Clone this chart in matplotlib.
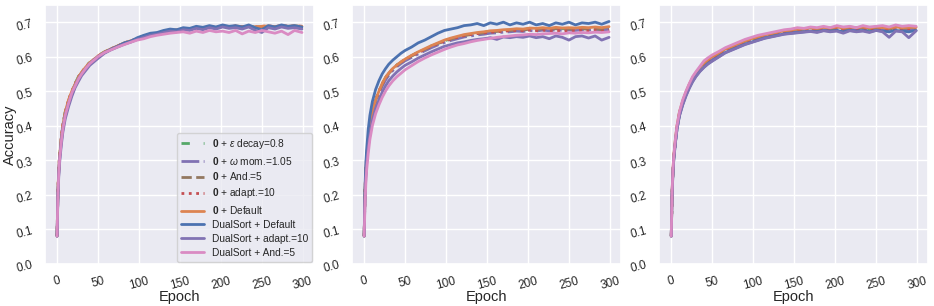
#!/usr/bin/env python3

import matplotlib

matplotlib.use("Agg")

import matplotlib.pyplot as plt
import seaborn as sns

EPOCHS = [0, 1, 2, 3, 5, 7, 10, 14, 18, 22, 26, 30, 35, 40, 45, 50,
          58, 66, 74, 82, 90, 98, 106, 114, 122, 130, 138, 146, 154, 162,
          170, 178, 186, 194, 202, 210, 218, 226, 234, 242, 250, 258, 266,
          274, 282, 290, 299]

LABELS = [
    r"$\mathbf{0}$ + $\varepsilon$ decay=0.8",
    r"$\mathbf{0}$ + $\omega$ mom.=1.05",
    r"$\mathbf{0}$ + And.=5",
    r"$\mathbf{0}$ + adapt.=10",
    r"$\mathbf{0}$ + Default",
    "DualSort + Default",
    "DualSort + adapt.=10",
    "DualSort + And.=5",
]

# ---- panel 1
P1_EPS = [0.08, 0.21, 0.27, 0.31, 0.36, 0.40, 0.44, 0.473, 0.50, 0.522, 0.542, 0.556, 0.571, 0.584, 0.593, 0.603,
          0.614, 0.622, 0.632, 0.639, 0.646, 0.653, 0.660, 0.665, 0.667, 0.673, 0.676, 0.676, 0.681, 0.680, 0.684,
          0.683, 0.686, 0.684, 0.688, 0.686, 0.688, 0.686, 0.689, 0.685, 0.687, 0.689, 0.686, 0.690, 0.687, 0.689, 0.687]
P1_OMEGA = [0.08, 0.20, 0.27, 0.31, 0.36, 0.40, 0.435, 0.47, 0.497, 0.518, 0.538, 0.552, 0.568, 0.581, 0.59, 0.60,
            0.612, 0.621, 0.630, 0.638, 0.645, 0.652, 0.658, 0.663, 0.667, 0.671, 0.674, 0.675, 0.679, 0.679, 0.683,
            0.682, 0.685, 0.683, 0.687, 0.684, 0.687, 0.684, 0.688, 0.683, 0.686, 0.688, 0.684, 0.689, 0.686, 0.688, 0.685]
P1_AND = [0.08, 0.21, 0.27, 0.31, 0.36, 0.40, 0.44, 0.472, 0.499, 0.52, 0.54, 0.554, 0.569, 0.582, 0.591, 0.601,
          0.613, 0.622, 0.631, 0.639, 0.645, 0.652, 0.659, 0.664, 0.668, 0.672, 0.675, 0.677, 0.680, 0.680, 0.684,
          0.683, 0.686, 0.684, 0.688, 0.685, 0.688, 0.686, 0.688, 0.685, 0.687, 0.688, 0.686, 0.689, 0.687, 0.688, 0.687]
P1_ADAPT = [0.08, 0.21, 0.27, 0.31, 0.36, 0.40, 0.44, 0.474, 0.50, 0.521, 0.541, 0.555, 0.57, 0.583, 0.592, 0.602,
            0.613, 0.623, 0.631, 0.640, 0.646, 0.652, 0.660, 0.664, 0.668, 0.672, 0.676, 0.677, 0.680, 0.681, 0.683,
            0.684, 0.686, 0.685, 0.688, 0.686, 0.689, 0.686, 0.688, 0.686, 0.688, 0.689, 0.687, 0.690, 0.688, 0.689, 0.688]
P1_DEFAULT = [0.08, 0.21, 0.27, 0.31, 0.36, 0.40, 0.44, 0.475, 0.50, 0.52, 0.54, 0.555, 0.57, 0.583, 0.592, 0.602,
              0.614, 0.623, 0.631, 0.640, 0.646, 0.652, 0.660, 0.664, 0.668, 0.672, 0.676, 0.677, 0.680, 0.681, 0.683,
              0.684, 0.686, 0.685, 0.688, 0.686, 0.689, 0.687, 0.688, 0.686, 0.688, 0.689, 0.687, 0.690, 0.688, 0.689, 0.688]
P1_DS_DEFAULT = [0.08, 0.20, 0.26, 0.30, 0.35, 0.39, 0.43, 0.465, 0.49, 0.515, 0.535, 0.55, 0.565, 0.58, 0.59, 0.60,
                 0.612, 0.622, 0.630, 0.640, 0.645, 0.655, 0.662, 0.668, 0.670, 0.676, 0.680, 0.678, 0.684, 0.682, 0.688,
                 0.685, 0.690, 0.686, 0.692, 0.688, 0.690, 0.686, 0.692, 0.684, 0.678, 0.690, 0.686, 0.692, 0.688, 0.690, 0.686]
P1_DS_ADAPT = [0.08, 0.19, 0.25, 0.29, 0.34, 0.38, 0.42, 0.455, 0.485, 0.51, 0.528, 0.545, 0.56, 0.575, 0.585, 0.595,
               0.610, 0.620, 0.628, 0.636, 0.642, 0.650, 0.656, 0.662, 0.665, 0.670, 0.674, 0.672, 0.678, 0.676, 0.682,
               0.678, 0.684, 0.680, 0.686, 0.682, 0.684, 0.680, 0.686, 0.676, 0.670, 0.684, 0.680, 0.686, 0.682, 0.684, 0.680]
P1_DS_AND = [0.08, 0.20, 0.26, 0.30, 0.35, 0.39, 0.43, 0.465, 0.495, 0.515, 0.535, 0.55, 0.566, 0.58, 0.59, 0.60,
             0.612, 0.620, 0.628, 0.635, 0.642, 0.648, 0.652, 0.658, 0.662, 0.665, 0.668, 0.670, 0.672, 0.668, 0.674,
             0.670, 0.676, 0.672, 0.674, 0.670, 0.676, 0.666, 0.674, 0.670, 0.676, 0.672, 0.668, 0.674, 0.664, 0.676, 0.670]

# ---- panel 2
P2_EPS = [0.08, 0.21, 0.27, 0.31, 0.36, 0.40, 0.44, 0.474, 0.50, 0.521, 0.539, 0.552, 0.566, 0.576, 0.585, 0.593,
          0.603, 0.613, 0.622, 0.631, 0.639, 0.646, 0.652, 0.657, 0.662, 0.665, 0.668, 0.670, 0.673, 0.674, 0.676,
          0.677, 0.679, 0.678, 0.681, 0.680, 0.682, 0.680, 0.683, 0.681, 0.682, 0.681, 0.683, 0.682, 0.684, 0.682, 0.684]
P2_OMEGA = [0.08, 0.20, 0.26, 0.30, 0.35, 0.39, 0.43, 0.466, 0.492, 0.514, 0.532, 0.546, 0.56, 0.571, 0.58, 0.588,
            0.598, 0.608, 0.617, 0.626, 0.634, 0.641, 0.647, 0.652, 0.657, 0.660, 0.663, 0.665, 0.668, 0.669, 0.671,
            0.672, 0.674, 0.673, 0.676, 0.674, 0.677, 0.675, 0.678, 0.676, 0.677, 0.676, 0.678, 0.677, 0.679, 0.677, 0.679]
P2_AND = [0.08, 0.21, 0.27, 0.31, 0.36, 0.40, 0.44, 0.473, 0.499, 0.52, 0.538, 0.551, 0.565, 0.575, 0.584, 0.592,
          0.602, 0.612, 0.621, 0.630, 0.638, 0.645, 0.651, 0.656, 0.661, 0.664, 0.667, 0.669, 0.672, 0.673, 0.675,
          0.676, 0.678, 0.677, 0.680, 0.678, 0.681, 0.679, 0.681, 0.679, 0.680, 0.679, 0.681, 0.679, 0.681, 0.678, 0.680]
P2_ADAPT = [0.08, 0.21, 0.27, 0.31, 0.36, 0.40, 0.44, 0.474, 0.50, 0.521, 0.539, 0.552, 0.565, 0.575, 0.584, 0.592,
            0.602, 0.612, 0.621, 0.630, 0.638, 0.645, 0.651, 0.656, 0.661, 0.664, 0.667, 0.669, 0.671, 0.672, 0.674,
            0.675, 0.676, 0.675, 0.677, 0.675, 0.677, 0.675, 0.677, 0.674, 0.676, 0.675, 0.677, 0.674, 0.676, 0.674, 0.676]
P2_DEFAULT = [0.08, 0.21, 0.27, 0.31, 0.36, 0.40, 0.44, 0.475, 0.50, 0.522, 0.54, 0.553, 0.566, 0.576, 0.585, 0.593,
              0.604, 0.614, 0.623, 0.632, 0.640, 0.648, 0.654, 0.659, 0.664, 0.667, 0.670, 0.672, 0.675, 0.676, 0.678,
              0.679, 0.681, 0.680, 0.683, 0.682, 0.684, 0.682, 0.685, 0.683, 0.684, 0.683, 0.685, 0.684, 0.686, 0.684, 0.687]
P2_DS_DEFAULT = [0.08, 0.22, 0.29, 0.33, 0.39, 0.43, 0.47, 0.505, 0.53, 0.55, 0.565, 0.578, 0.59, 0.60, 0.61, 0.618,
                 0.628, 0.640, 0.648, 0.658, 0.668, 0.676, 0.680, 0.684, 0.690, 0.692, 0.696, 0.690, 0.698, 0.694, 0.700,
                 0.692, 0.698, 0.694, 0.700, 0.692, 0.696, 0.690, 0.698, 0.694, 0.700, 0.692, 0.698, 0.696, 0.700, 0.694, 0.702]
P2_DS_ADAPT = [0.08, 0.19, 0.25, 0.29, 0.34, 0.375, 0.415, 0.45, 0.475, 0.497, 0.515, 0.53, 0.544, 0.556, 0.566, 0.575,
               0.585, 0.596, 0.605, 0.614, 0.622, 0.630, 0.635, 0.640, 0.643, 0.647, 0.650, 0.652, 0.655, 0.650, 0.657,
               0.655, 0.658, 0.656, 0.660, 0.655, 0.658, 0.652, 0.660, 0.656, 0.648, 0.658, 0.660, 0.654, 0.660, 0.648, 0.656]
P2_DS_AND = [0.08, 0.17, 0.23, 0.27, 0.32, 0.36, 0.40, 0.435, 0.46, 0.482, 0.50, 0.515, 0.53, 0.542, 0.552, 0.562,
             0.574, 0.586, 0.596, 0.605, 0.613, 0.621, 0.628, 0.634, 0.638, 0.643, 0.647, 0.650, 0.653, 0.656, 0.658,
             0.660, 0.662, 0.663, 0.665, 0.664, 0.666, 0.667, 0.668, 0.666, 0.669, 0.668, 0.670, 0.669, 0.671, 0.670, 0.672]

# ---- panel 3
P3_EPS = [0.08, 0.20, 0.265, 0.305, 0.355, 0.395, 0.435, 0.468, 0.494, 0.516, 0.535, 0.549, 0.564, 0.578, 0.588, 0.596,
          0.607, 0.618, 0.626, 0.634, 0.642, 0.648, 0.654, 0.659, 0.663, 0.667, 0.671, 0.673, 0.676, 0.677, 0.679,
          0.678, 0.681, 0.679, 0.682, 0.679, 0.682, 0.680, 0.682, 0.679, 0.682, 0.680, 0.679, 0.682, 0.680, 0.681, 0.681]
P3_OMEGA = [0.08, 0.20, 0.26, 0.30, 0.35, 0.39, 0.432, 0.465, 0.491, 0.513, 0.532, 0.546, 0.561, 0.574, 0.584, 0.592,
            0.604, 0.615, 0.623, 0.631, 0.639, 0.645, 0.651, 0.656, 0.660, 0.664, 0.668, 0.670, 0.673, 0.674, 0.676,
            0.675, 0.678, 0.676, 0.679, 0.676, 0.679, 0.677, 0.679, 0.676, 0.679, 0.677, 0.676, 0.679, 0.677, 0.678, 0.678]
P3_AND = [0.08, 0.205, 0.265, 0.305, 0.355, 0.395, 0.437, 0.47, 0.496, 0.518, 0.537, 0.551, 0.566, 0.58, 0.59, 0.598,
          0.609, 0.620, 0.628, 0.636, 0.644, 0.650, 0.656, 0.661, 0.665, 0.669, 0.673, 0.675, 0.678, 0.679, 0.681,
          0.680, 0.683, 0.681, 0.684, 0.681, 0.684, 0.682, 0.684, 0.681, 0.684, 0.682, 0.681, 0.684, 0.682, 0.683, 0.683]
P3_ADAPT = [0.08, 0.20, 0.265, 0.305, 0.355, 0.395, 0.435, 0.468, 0.494, 0.516, 0.535, 0.549, 0.564, 0.578, 0.588, 0.596,
            0.607, 0.618, 0.626, 0.634, 0.642, 0.648, 0.654, 0.659, 0.663, 0.667, 0.671, 0.673, 0.676, 0.677, 0.679,
            0.678, 0.681, 0.679, 0.682, 0.679, 0.682, 0.680, 0.682, 0.679, 0.682, 0.680, 0.679, 0.682, 0.680, 0.681, 0.681]
P3_DEFAULT = [0.08, 0.205, 0.27, 0.31, 0.36, 0.40, 0.44, 0.472, 0.498, 0.52, 0.539, 0.553, 0.568, 0.582, 0.592, 0.600,
              0.611, 0.622, 0.630, 0.638, 0.646, 0.652, 0.658, 0.663, 0.667, 0.671, 0.675, 0.677, 0.680, 0.681, 0.683,
              0.682, 0.685, 0.683, 0.686, 0.683, 0.686, 0.684, 0.686, 0.683, 0.686, 0.684, 0.683, 0.686, 0.684, 0.685, 0.685]
P3_DS_DEFAULT = [0.08, 0.20, 0.26, 0.30, 0.35, 0.39, 0.43, 0.462, 0.488, 0.51, 0.528, 0.543, 0.558, 0.57, 0.58, 0.588,
                 0.600, 0.612, 0.620, 0.628, 0.636, 0.642, 0.648, 0.654, 0.658, 0.662, 0.666, 0.668, 0.670, 0.672, 0.674,
                 0.672, 0.676, 0.674, 0.676, 0.672, 0.676, 0.674, 0.676, 0.672, 0.676, 0.674, 0.672, 0.676, 0.674, 0.672, 0.676]
P3_DS_ADAPT = [0.08, 0.20, 0.26, 0.30, 0.35, 0.39, 0.428, 0.46, 0.486, 0.508, 0.527, 0.542, 0.557, 0.569, 0.579, 0.587,
               0.599, 0.611, 0.619, 0.627, 0.635, 0.641, 0.647, 0.653, 0.657, 0.661, 0.665, 0.667, 0.669, 0.671, 0.673,
               0.670, 0.675, 0.672, 0.674, 0.668, 0.675, 0.672, 0.674, 0.670, 0.676, 0.672, 0.656, 0.674, 0.672, 0.655, 0.675]
P3_DS_AND = [0.08, 0.21, 0.27, 0.31, 0.36, 0.40, 0.44, 0.475, 0.50, 0.522, 0.542, 0.556, 0.572, 0.588, 0.597, 0.605,
             0.615, 0.626, 0.634, 0.642, 0.650, 0.656, 0.662, 0.666, 0.670, 0.674, 0.678, 0.680, 0.684, 0.682, 0.686,
             0.684, 0.688, 0.684, 0.690, 0.686, 0.688, 0.684, 0.690, 0.686, 0.688, 0.690, 0.686, 0.692, 0.688, 0.690, 0.688]

PANELS = [
    [P1_EPS, P1_OMEGA, P1_AND, P1_ADAPT, P1_DEFAULT, P1_DS_DEFAULT, P1_DS_ADAPT, P1_DS_AND],
    [P2_EPS, P2_OMEGA, P2_AND, P2_ADAPT, P2_DEFAULT, P2_DS_DEFAULT, P2_DS_ADAPT, P2_DS_AND],
    [P3_EPS, P3_OMEGA, P3_AND, P3_ADAPT, P3_DEFAULT, P3_DS_DEFAULT, P3_DS_ADAPT, P3_DS_AND],
]

deep = sns.color_palette("deep")
STYLES = [
    (deep[2], (0, (3, 5, 1, 5))),
    (deep[4], "-."),
    (deep[5], "--"),
    (deep[3], ":"),
    (deep[1], "-"),
    (deep[0], "-"),
    (deep[4], "-"),
    (deep[6], "-"),
]


def main() -> None:
    sns.set_theme(style="darkgrid")
    plt.rcParams["font.family"] = ["Liberation Sans", "DejaVu Sans"]
    plt.rcParams["mathtext.fontset"] = "custom"
    plt.rcParams["mathtext.rm"] = "Liberation Sans"
    plt.rcParams["mathtext.it"] = "Liberation Sans:italic"
    plt.rcParams["mathtext.bf"] = "Liberation Sans:bold"

    fig, axes = plt.subplots(1, 3, figsize=(9.34, 3.06), dpi=100)
    fig.subplots_adjust(left=0.048, right=0.994, bottom=0.138, top=0.984, wspace=0.14)

    for ax, series in zip(axes, PANELS):
        for values, label, (color, ls) in zip(series, LABELS, STYLES):
            ax.plot(EPOCHS, values, color=color, linestyle=ls, linewidth=2, label=label)
        ax.set_ylim(0, 0.75)
        ax.set_yticks([0.0, 0.1, 0.2, 0.3, 0.4, 0.5, 0.6, 0.7])
        ax.set_xticks([0, 50, 100, 150, 200, 250, 300])
        ax.set_xlabel("Epoch", fontsize=10.5, labelpad=-1)
        ax.tick_params(axis="both", labelsize=8.5, pad=2)
        for lab in ax.get_xticklabels() + ax.get_yticklabels():
            lab.set_rotation(15)

    axes[0].set_ylabel("Accuracy", fontsize=10.5)
    axes[0].yaxis.set_label_coords(-0.105, 0.5)
    axes[0].legend(loc="lower right", fontsize=7.3, handlelength=2.2,
                   borderaxespad=0.2, labelspacing=0.38)

    fig.savefig("out.png", dpi=100)
    plt.close(fig)


if __name__ == "__main__":
    main()
